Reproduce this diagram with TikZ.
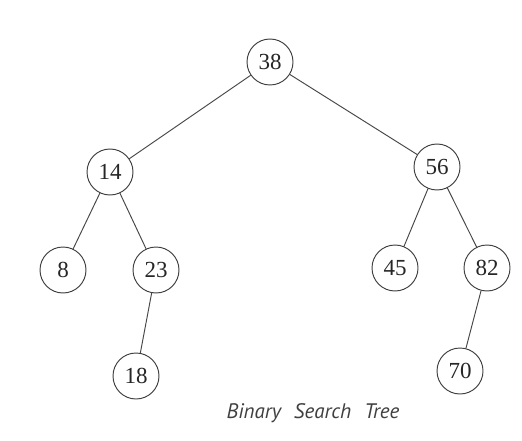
\documentclass[tikz,border=0pt]{standalone}
\usepackage{fontspec}
\setmainfont{Liberation Serif}
\newfontfamily\capfont{PT Sans}
\begin{document}
\begin{tikzpicture}[x=1pt,y=-1pt,
  keynode/.style={circle, draw=black!75, line width=0.95pt, fill=white,
    minimum size=46pt, inner sep=0pt, text=black!85,
    font=\fontsize{23}{23}\selectfont},
  edge/.style={draw=black!72, line width=0.95pt}]
  \useasboundingbox (0,0) rectangle (522,441);
  \fill[white] (0,0) rectangle (522,441);

  % keys of the search tree
  \node[keynode] (n38) at (270,62) {38};
  \node[keynode] (n14) at (110,172) {14};
  \node[keynode] (n56) at (437,167) {56};
  \node[keynode] (n8)  at (63,270) {8};
  \node[keynode] (n23) at (156,270) {23};
  \node[keynode] (n45) at (395,268) {45};
  \node[keynode] (n82) at (487,268) {82};
  \node[keynode] (n18) at (136,376) {18};
  \node[keynode] (n70) at (460,371) {70};

  % parent-child links
  \draw[edge] (n38) -- (n14);
  \draw[edge] (n38) -- (n56);
  \draw[edge] (n14) -- (n8);
  \draw[edge] (n14) -- (n23);
  \draw[edge] (n23) -- (n18);
  \draw[edge] (n56) -- (n45);
  \draw[edge] (n56) -- (n82);
  \draw[edge] (n82) -- (n70);

  \node[text=black!75, font=\capfont\itshape\fontsize{21}{24}\selectfont]
    (cap) at (313,413) {Binary\hspace{0.35em} Search\hspace{0.35em} Tree};
\end{tikzpicture}
\end{document}
